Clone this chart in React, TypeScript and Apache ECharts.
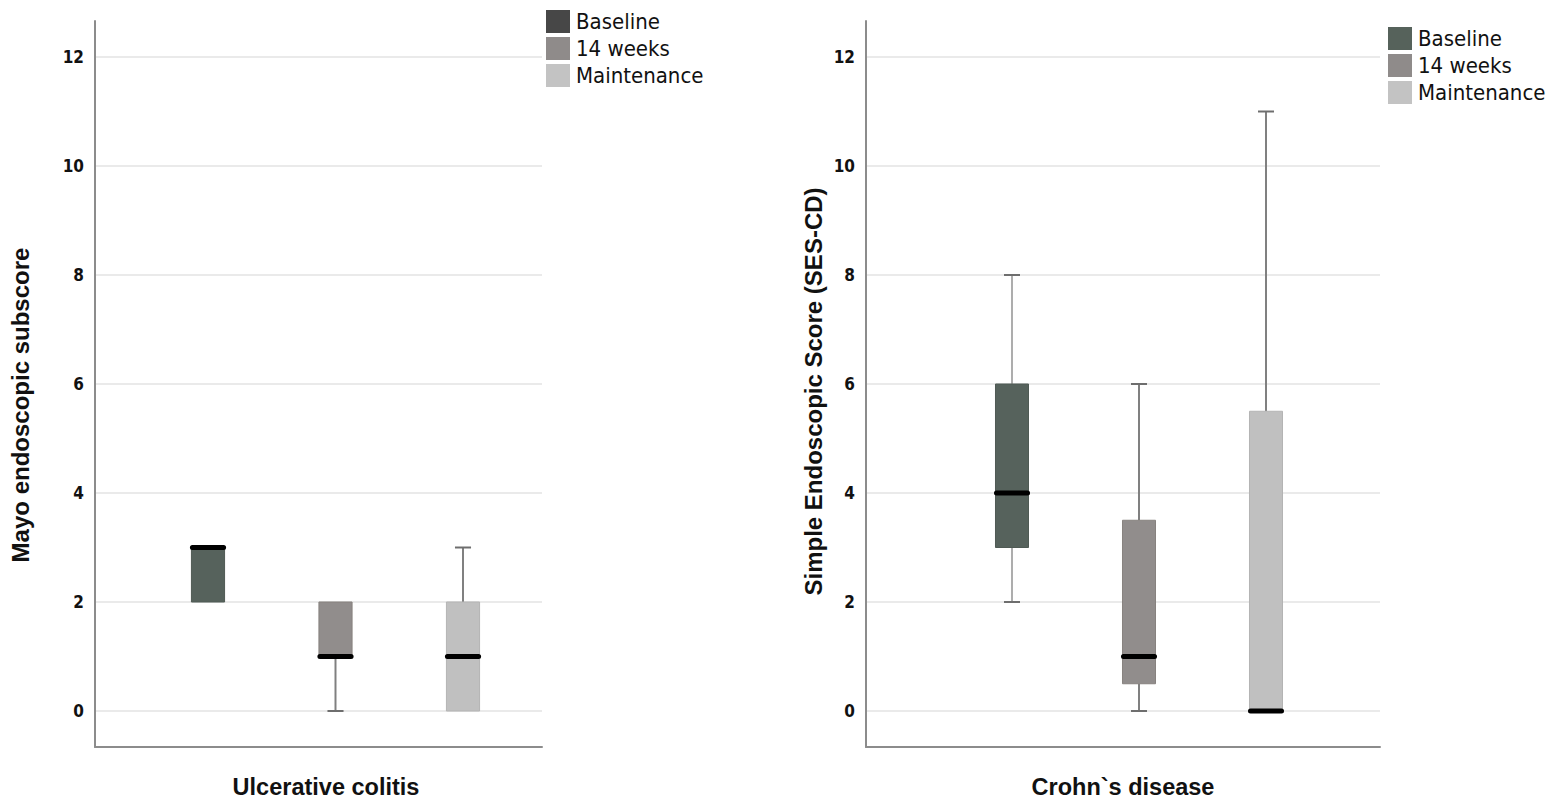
import React, { useEffect, useRef } from "react";
import * as echarts from "echarts";

const groups = ["Baseline", "14 weeks", "Maintenance"];
// box statistics per group: [min, Q1, median, Q3, max]
const ucBaseline = [2, 2, 3, 3, 3];
const uc14Weeks = [0, 1, 1, 2, 2];
const ucMaintenance = [0, 0, 1, 2, 3];
const cdBaseline = [2, 3, 4, 6, 8];
const cd14Weeks = [0, 0.5, 1, 3.5, 6];
const cdMaintenance = [0, 0, 0, 5.5, 11];
const ucStats = [ucBaseline, uc14Weeks, ucMaintenance];
const cdStats = [cdBaseline, cd14Weeks, cdMaintenance];
const xTitles = ["Ulcerative colitis", "Crohn`s disease"];
const yTitles = ["Mayo endoscopic subscore", "Simple Endoscopic Score (SES-CD)"];
const yMin = 0;
const yMax = 12;
const yStep = 2;

const boxFill = ["#56625c", "#918d8c", "#c0c0c0"];
const boxStroke = ["#4f5a54", "#87827f", "#b4b4b4"];
const whiskerColor = ["#adadad", "#808080", "#808080"];
const legendColors = [
  ["#474747", "#8f8b8a", "#c3c3c3"],
  ["#56625b", "#8f8b8a", "#c3c3c3"],
];

const LABEL_FONT = "'DejaVu Sans Condensed', 'DejaVu Sans', sans-serif";
const TITLE_FONT = "'Liberation Sans', Arial, sans-serif";

const panels = [
  {
    frame: { left: 95, top: 21, width: 447, height: 726 },
    inner: { left: 95, top: 57, width: 447, height: 654 },
    box: { left: 144.25, top: 57, width: 382.5, height: 654 },
    legend: { left: 541, top: 5 },
    yNameGap: 63,
    yNamePad: [0, 42, 0, 0],
    xNamePad: [0, 0, 0, 15],
  },
  {
    frame: { left: 866, top: 21, width: 514, height: 726 },
    inner: { left: 866, top: 57, width: 514, height: 654 },
    box: { left: 948.5, top: 57, width: 381, height: 654 },
    legend: { left: 1383, top: 22 },
    yNameGap: 41,
    yNamePad: [0, 15, 0, 0],
    xNamePad: [0, 0, 0, 0],
  },
];

const renderBox = (params: any, api: any) => {
  const idx = api.value(0);
  const band = api.size([1, 0])[0];
  const half = band * 0.13;
  const capHalf = band * 0.063;
  const [cx, yLo] = api.coord([idx, api.value(1)]);
  const yQ1 = api.coord([idx, api.value(2)])[1];
  const yMed = api.coord([idx, api.value(3)])[1];
  const yQ3 = api.coord([idx, api.value(4)])[1];
  const yHi = api.coord([idx, api.value(5)])[1];
  const wStyle = { stroke: whiskerColor[idx], lineWidth: 2 };
  const capStyle = { stroke: "#6e6e6e", lineWidth: 2 };
  const children: any[] = [];
  if (yHi < yQ3 - 0.5) {
    children.push({ type: "line", shape: { x1: cx, y1: yHi, x2: cx, y2: yQ3 }, style: wStyle });
    children.push({ type: "line", shape: { x1: cx - capHalf, y1: yHi, x2: cx + capHalf, y2: yHi }, style: capStyle });
  }
  if (yLo > yQ1 + 0.5) {
    children.push({ type: "line", shape: { x1: cx, y1: yQ1, x2: cx, y2: yLo }, style: wStyle });
    children.push({ type: "line", shape: { x1: cx - capHalf, y1: yLo, x2: cx + capHalf, y2: yLo }, style: capStyle });
  }
  children.push({
    type: "rect",
    shape: { x: cx - half, y: yQ3, width: half * 2, height: yQ1 - yQ3 },
    style: { fill: boxFill[idx], stroke: boxStroke[idx], lineWidth: 1 },
  });
  children.push({
    type: "line",
    shape: { x1: cx - half + 1, y1: yMed, x2: cx + half - 1, y2: yMed },
    style: { stroke: "#000000", lineWidth: 5, lineCap: "round" },
  });
  return { type: "group", children };
};

function buildOption() {
  const grid: any[] = [];
  const xAxis: any[] = [];
  const yAxis: any[] = [];
  const series: any[] = [];
  const legend: any[] = [];
  const allStats = [ucStats, cdStats];

  panels.forEach((p, pi) => {
    const base = pi * 3;
    grid.push({ ...p.frame, containLabel: false });
    grid.push({ ...p.inner, containLabel: false });
    grid.push({ ...p.box, containLabel: false });

    const frameMin = yMin - (p.frame.top + p.frame.height - (p.inner.top + p.inner.height)) / p.inner.height * (yMax - yMin);
    const frameMax = yMax + (p.inner.top - p.frame.top) / p.inner.height * (yMax - yMin);
    xAxis.push({
      type: "value",
      gridIndex: base,
      min: 0,
      max: 1,
      axisLine: { show: true, onZero: false, lineStyle: { color: "#8c8c8c", width: 2 } },
      axisTick: { show: false },
      axisLabel: { show: false },
      splitLine: { show: false },
      name: xTitles[pi],
      nameLocation: "middle",
      nameGap: 28,
      nameTextStyle: {
        fontFamily: TITLE_FONT,
        fontWeight: "bold",
        fontSize: 23.5,
        color: "#111",
        padding: p.xNamePad,
      },
    });
    yAxis.push({
      type: "value",
      gridIndex: base,
      min: frameMin,
      max: frameMax,
      axisLine: { show: true, onZero: false, lineStyle: { color: "#8c8c8c", width: 2 } },
      axisTick: { show: false },
      axisLabel: { show: false },
      splitLine: { show: false },
      name: yTitles[pi],
      nameLocation: "middle",
      nameRotate: 90,
      nameGap: p.yNameGap,
      nameTextStyle: {
        fontFamily: TITLE_FONT,
        fontWeight: "bold",
        fontSize: 24,
        color: "#111",
        padding: p.yNamePad,
      },
    });

    xAxis.push({ type: "value", gridIndex: base + 1, min: 0, max: 1, show: false });
    yAxis.push({
      type: "value",
      gridIndex: base + 1,
      min: yMin,
      max: yMax,
      interval: yStep,
      axisLine: { show: false },
      axisTick: { show: false },
      axisLabel: { fontFamily: LABEL_FONT, fontSize: 17, fontWeight: "bold", color: "#111", margin: 11 },
      splitLine: { show: true, lineStyle: { color: "#e3e3e3", width: 1.5 } },
    });

    xAxis.push({ type: "category", gridIndex: base + 2, data: groups, show: false });
    yAxis.push({ type: "value", gridIndex: base + 2, min: yMin, max: yMax, show: false });

    groups.forEach((g, gi) => {
      series.push({
        type: "custom",
        name: g,
        xAxisIndex: base + 2,
        yAxisIndex: base + 2,
        renderItem: renderBox,
        itemStyle: { color: boxFill[gi] },
        encode: { x: 0, y: [1, 2, 3, 4, 5] },
        data: [[gi, ...allStats[pi][gi]]],
        silent: true,
      });
    });

    legend.push({
      orient: "vertical",
      left: p.legend.left,
      top: p.legend.top,
      itemWidth: 24,
      itemHeight: 23,
      itemGap: 4,
      icon: "rect",
      selectedMode: false,
      itemStyle: { borderWidth: 0 },
      textStyle: { fontFamily: LABEL_FONT, fontSize: 22, color: "#111", lineHeight: 23, padding: [0, 0, 0, 1] },
      data: groups.map((g, gi) => ({ name: g, itemStyle: { color: legendColors[pi][gi], borderWidth: 0 } })),
    });
  });

  return { animation: false, backgroundColor: "#ffffff", grid, xAxis, yAxis, series, legend };
}

export default function App() {
  const ref = useRef<HTMLDivElement>(null);
  useEffect(() => {
    if (!ref.current) return;
    const chart = echarts.init(ref.current, null, { renderer: "svg" });
    chart.setOption(buildOption() as any);
    return () => chart.dispose();
  }, []);
  return (
    <div
      ref={ref}
      style={{ position: "absolute", left: 0, top: 0, width: 1550, height: 804, background: "#fff" }}
    />
  );
}
